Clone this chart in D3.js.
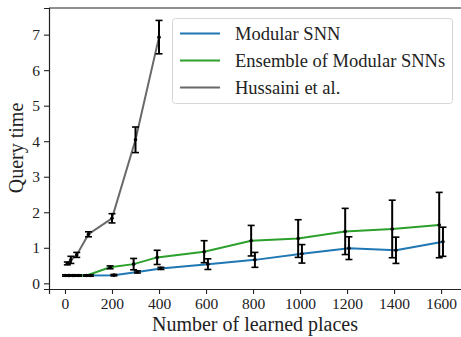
<!DOCTYPE html>
<html>
<head>
<meta charset="utf-8">
<script src="https://cdn.jsdelivr.net/npm/d3@7"></script>
<style>
  body { margin: 0; background: #fff; }
  svg text { font-family: "Liberation Serif", "Times New Roman", serif; fill: #222; }
</style>
</head>
<body>
<svg id="chart" width="461" height="337"></svg>
<script>
// places learned (x values)
const places = [10, 25, 50, 100, 200, 300, 400, 600, 800, 1000, 1200, 1400, 1600];
const hussainiPlaces = [10, 25, 50, 100, 200, 300, 400];

// query time means and std
const modularMean = [0.22, 0.22, 0.22, 0.22, 0.23, 0.32, 0.42, 0.54, 0.66, 0.83, 0.99, 0.93, 1.17];
const modularErr  = [0.02, 0.02, 0.02, 0.02, 0.02, 0.03, 0.03, 0.15, 0.21, 0.26, 0.32, 0.37, 0.41];
const ensembleMean = [0.22, 0.22, 0.22, 0.22, 0.45, 0.54, 0.73, 0.89, 1.20, 1.26, 1.46, 1.53, 1.64];
const ensembleErr  = [0.02, 0.02, 0.02, 0.02, 0.04, 0.16, 0.20, 0.31, 0.43, 0.53, 0.65, 0.81, 0.92];
const hussainiMean = [0.56, 0.66, 0.80, 1.38, 1.83, 4.04, 6.93];
const hussainiErr  = [0.04, 0.10, 0.07, 0.07, 0.13, 0.36, 0.47];

const xTicks = [0, 200, 400, 600, 800, 1000, 1200, 1400, 1600];
const yTicks = [0, 1, 2, 3, 4, 5, 6, 7];

const seriesNames = ["Modular SNN", "Ensemble of Modular SNNs", "Hussaini et al."];
const seriesColors = ["#1f77b4", "#2ca02c", "#696969"];

const svg = d3.select("#chart");
const x = d3.scaleLinear().domain([-68, 1689]).range([49, 462]);
const y = d3.scaleLinear().domain([-0.16, 7.75]).range([289, 8]);

const series = [
  {name: seriesNames[0], color: seriesColors[0], xs: places, m: modularMean, e: modularErr, shift: 8},
  {name: seriesNames[1], color: seriesColors[1], xs: places, m: ensembleMean, e: ensembleErr, shift: -8},
  {name: seriesNames[2], color: seriesColors[2], xs: hussainiPlaces, m: hussainiMean, e: hussainiErr, shift: 0}
];

// axes
const xAxis = svg.append("g").attr("transform", "translate(0,289)")
  .call(d3.axisBottom(x).tickValues(xTicks).tickSize(5).tickPadding(4).tickFormat(d3.format("d")));
const yAxis = svg.append("g").attr("transform", "translate(49,0)")
  .call(d3.axisLeft(y).tickValues(yTicks).tickSize(5).tickPadding(4).tickFormat(d3.format("d")));
[xAxis, yAxis].forEach(a => {
  a.attr("font-family", "Liberation Serif, serif");
  a.select(".domain").attr("stroke", "#222").attr("stroke-width", 1.2);
  a.selectAll(".tick line").attr("stroke", "#222").attr("stroke-width", 1.1);
  a.selectAll(".tick text").attr("font-size", 15.5).attr("fill", "#222")
    .style("font-family", "'Liberation Serif', serif");
});
svg.append("line").attr("x1", 49).attr("x2", 462).attr("y1", 8).attr("y2", 8)
  .attr("stroke", "#222").attr("stroke-width", 1.2);

svg.append("text").attr("x", 255).attr("y", 331).attr("text-anchor", "middle")
  .attr("font-size", 20).text("Number of learned places");
svg.append("text").attr("transform", "translate(23,148) rotate(-90)").attr("text-anchor", "middle")
  .attr("font-size", 20).text("Query time");

// lines
const line = d3.line();
series.forEach(s => {
  svg.append("path")
    .attr("d", line(s.xs.map((v, i) => [x(v + s.shift), y(s.m[i])])))
    .attr("fill", "none").attr("stroke", s.color).attr("stroke-width", 2);
});

// error bars and markers
series.forEach(s => {
  const g = svg.append("g");
  s.xs.forEach((v, i) => {
    const cx = x(v + s.shift);
    const y1 = y(s.m[i] + s.e[i]), y0 = y(s.m[i] - s.e[i]);
    g.append("line").attr("x1", cx).attr("x2", cx).attr("y1", y1).attr("y2", y0)
      .attr("stroke", "#000").attr("stroke-width", 2);
    [y1, y0].forEach(yy => g.append("line").attr("x1", cx - 3.5).attr("x2", cx + 3.5)
      .attr("y1", yy).attr("y2", yy).attr("stroke", "#000").attr("stroke-width", 1.6));
    g.append("circle").attr("cx", cx).attr("cy", y(s.m[i])).attr("r", 1.8).attr("fill", "#000");
  });
});

// legend
const lg = svg.append("g");
lg.append("rect").attr("x", 172.5).attr("y", 18.5).attr("width", 280).attr("height", 85)
  .attr("rx", 3).attr("fill", "#fff").attr("fill-opacity", 0.8).attr("stroke", "#d6d6d6");
series.forEach((s, i) => {
  const yy = 33.5 + i * 27;
  lg.append("line").attr("x1", 180).attr("x2", 220).attr("y1", yy).attr("y2", yy)
    .attr("stroke", s.color).attr("stroke-width", 2);
  lg.append("text").attr("x", 235).attr("y", yy + 6).attr("font-size", 18.5).text(s.name);
});
</script>
</body>
</html>
